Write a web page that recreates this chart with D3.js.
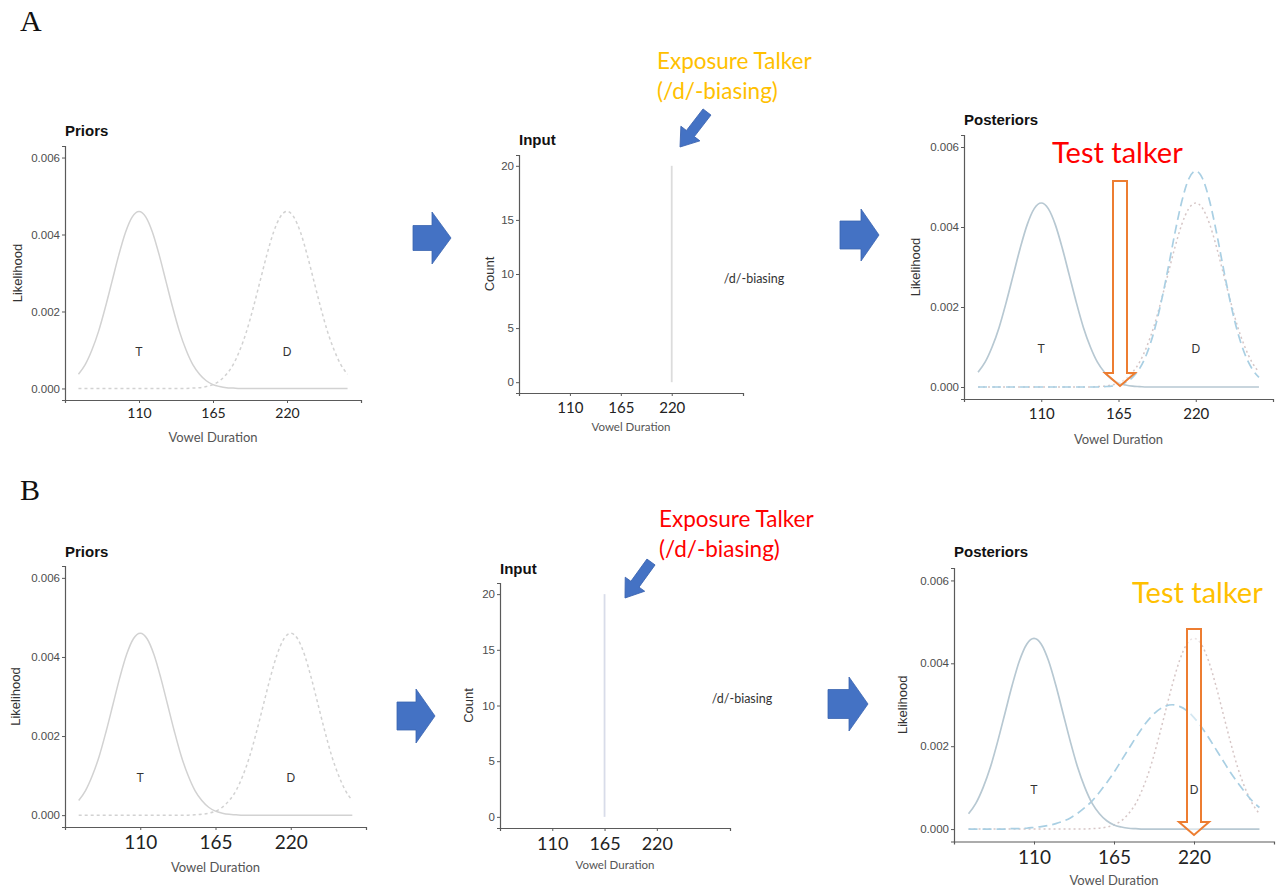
<!DOCTYPE html>
<html>
<head>
<meta charset="utf-8">
<script src="https://cdn.jsdelivr.net/npm/d3@7"></script>
<style>
  body { margin: 0; background: #fff; }
  svg text { font-family: "Liberation Sans", Arial, sans-serif; }
</style>
</head>
<body>
<div id="chart"></div>
<script>
// Vowel duration grid (ms) the curves are read at
var duration = [65, 70, 75, 80, 85, 90, 95, 100, 105, 110, 115, 120, 125, 130, 135, 140, 145, 150, 155, 160,
  165, 170, 175, 180, 185, 190, 195, 200, 205, 210, 215, 220, 225, 230, 235, 240, 245, 250, 255, 260, 265];

// Prior /t/ category (solid)
var priorT = [0.00037, 0.00062, 0.00100, 0.00149, 0.00211, 0.00279, 0.00347, 0.00406, 0.00446, 0.00460,
  0.00446, 0.00406, 0.00347, 0.00279, 0.00211, 0.00149, 0.00100, 0.00062, 0.00037, 0.00020,
  0.00010, 0.00005, 0.00002, 0.00001, 0, 0, 0, 0, 0, 0, 0, 0, 0, 0, 0, 0, 0, 0, 0, 0, 0];

// Prior /d/ category (dotted)
var priorD = [0, 0, 0, 0, 0, 0, 0, 0, 0, 0, 0, 0, 0, 0, 0, 0, 0, 0.00001, 0.00002, 0.00005,
  0.00010, 0.00020, 0.00037, 0.00062, 0.00100, 0.00149, 0.00211, 0.00279, 0.00347, 0.00406,
  0.00446, 0.00460, 0.00446, 0.00406, 0.00347, 0.00279, 0.00211, 0.00149, 0.00100, 0.00062, 0.00037];

// Posterior /d/ after exposure, panel A (dashed)
var postD_A = [0, 0, 0, 0, 0, 0, 0, 0, 0, 0, 0, 0, 0, 0, 0, 0, 0, 0, 0.00001, 0.00002,
  0.00005, 0.00011, 0.00024, 0.00046, 0.00082, 0.00135, 0.00206, 0.00291, 0.00382, 0.00463,
  0.00520, 0.00540, 0.00520, 0.00463, 0.00382, 0.00291, 0.00206, 0.00135, 0.00082, 0.00046, 0.00024];

// Posterior /d/ after exposure, panel B (dashed)
var postD_B = [0, 0, 0, 0, 0, 0, 0.00001, 0.00001, 0.00002, 0.00004, 0.00006, 0.00009, 0.00013, 0.00019, 0.00027,
  0.00038, 0.00052, 0.00068, 0.00089, 0.00112, 0.00137, 0.00165, 0.00193, 0.00221, 0.00247,
  0.00269, 0.00286, 0.00296, 0.00300, 0.00296, 0.00286, 0.00269, 0.00247, 0.00221, 0.00193,
  0.00165, 0.00137, 0.00112, 0.00089, 0.00068, 0.00052];

// Exposure input (duration, count)
var inputA = [{ duration: 220, count: 20 }];
var inputB = [{ duration: 165, count: 20 }];

var likelihoodTicks = [0, 0.002, 0.004, 0.006];
var countTicks = [0, 5, 10, 15, 20];
var durationTicks = [110, 165, 220];
var categoryNames = ["T", "D"];
var categoryMeans = [110, 220];
var categoryLabelLevel = 0.00095;

var W = 1276, H = 893;
var svg = d3.select("#chart").append("svg")
  .attr("width", W)
  .attr("height", H);

var axisColor = "#5a5a5a";

function styleAxis(g) {
  g.select(".domain").attr("stroke", axisColor).attr("stroke-width", 1.2);
  g.selectAll(".tick line").attr("stroke", axisColor);
}

function xAxis(x, p) {
  var g = svg.append("g")
    .attr("transform", "translate(0," + p.bottom + ")")
    .call(d3.axisBottom(x).tickValues(durationTicks).tickSizeOuter(0).tickSize(3).tickPadding(p.xPad));
  styleAxis(g);
  g.selectAll(".tick text")
    .attr("fill", "#222")
    .style("font-family", "Lato, 'Open Sans', sans-serif")
    .style("font-size", p.xFont + "px");
  svg.append("text")
    .attr("x", (p.left + p.right) / 2)
    .attr("y", p.xTitleY)
    .attr("text-anchor", "middle")
    .attr("fill", "#555")
    .style("font-family", "Lato, 'Open Sans', sans-serif")
    .style("font-size", p.xTitleFont + "px")
    .text("Vowel Duration");
}

function yAxis(y, p, ticks, fmt, label) {
  var g = svg.append("g")
    .attr("transform", "translate(" + p.left + ",0)")
    .call(d3.axisLeft(y).tickValues(ticks).tickFormat(fmt).tickSizeOuter(0).tickSize(3).tickPadding(2));
  styleAxis(g);
  g.selectAll(".tick text")
    .attr("fill", "#4d4d4d")
    .style("font-size", "11.5px");
  svg.append("text")
    .attr("transform", "translate(" + p.yTitleX + "," + (p.top + p.bottom) / 2 + ") rotate(-90)")
    .attr("text-anchor", "middle")
    .attr("dy", "0.35em")
    .attr("fill", "#333")
    .style("font-size", "13px")
    .text(label);
  svg.append("text")
    .attr("x", p.left)
    .attr("y", p.titleY)
    .attr("font-weight", "bold")
    .attr("fill", "#111")
    .style("font-size", "15px")
    .text(p.title);
}

function densityPanel(p) {
  var x = d3.scaleLinear().domain([55, 275]).range([p.left, p.right]);
  var y = d3.scaleLinear().domain([-0.0003, 0.0063]).range([p.bottom, p.top]);
  var line = d3.line()
    .x(function(d, i) { return x(duration[i]); })
    .y(function(d) { return y(d); })
    .curve(d3.curveMonotoneX);

  p.curves.forEach(function(c) {
    svg.append("path")
      .datum(c.values)
      .attr("d", line)
      .attr("fill", "none")
      .attr("stroke", c.color)
      .attr("stroke-width", c.width || 1.5)
      .attr("stroke-dasharray", c.dash || null);
  });

  xAxis(x, p);
  yAxis(y, p, likelihoodTicks, d3.format(".3f"), "Likelihood");

  // category labels go on top so the test arrow does not hide them
  p.labels = function() {
    svg.selectAll(null)
      .data(categoryNames)
      .enter().append("text")
      .attr("x", function(d, i) { return x(categoryMeans[i]); })
      .attr("y", y(categoryLabelLevel))
      .attr("dy", "0.35em")
      .attr("text-anchor", "middle")
      .attr("fill", "#333")
      .style("font-size", "12px")
      .text(function(d) { return d; });
  };
  return p;
}

function inputPanel(p, data) {
  var x = d3.scaleLinear().domain([55, 297]).range([p.left, p.right]);
  var y = d3.scaleLinear().domain([-1, 21]).range([p.bottom, p.top]);

  svg.selectAll(null)
    .data(data)
    .enter().append("line")
    .attr("x1", function(d) { return x(d.duration); })
    .attr("x2", function(d) { return x(d.duration); })
    .attr("y1", y(0))
    .attr("y2", function(d) { return y(d.count); })
    .attr("stroke", p.barColor)
    .attr("stroke-width", 1.8);

  svg.append("text")
    .attr("x", p.legendX)
    .attr("y", p.legendY)
    .attr("dy", "0.35em")
    .attr("text-anchor", "middle")
    .attr("fill", "#333")
    .style("font-family", "Lato, 'Open Sans', sans-serif")
    .style("font-size", "12.5px")
    .text("/d/-biasing");

  xAxis(x, p);
  yAxis(y, p, countTicks, d3.format("d"), "Count");
}

// Right-pointing block arrow
function blockArrow(x0, xHead, xTip, cy, sh, hh) {
  var pts = [[x0, cy - sh], [xHead, cy - sh], [xHead, cy - hh], [xTip, cy], [xHead, cy + hh],
    [xHead, cy + sh], [x0, cy + sh]];
  svg.append("polygon")
    .attr("points", pts.map(function(d) { return d.join(","); }).join(" "))
    .attr("fill", "#4472C4")
    .attr("stroke", "#3b64b0")
    .attr("stroke-width", 0.8);
}

// Small slanted pointer arrow, tail -> tip
function pointer(tail, tip) {
  var dx = tip[0] - tail[0], dy = tip[1] - tail[1];
  var L = Math.sqrt(dx * dx + dy * dy);
  var ang = Math.atan2(dy, dx) * 180 / Math.PI;
  var sw = 5, hw = 12, hl = 17;
  var pts = [[0, -sw], [L - hl, -sw], [L - hl, -hw], [L, 0], [L - hl, hw], [L - hl, sw], [0, sw]];
  svg.append("polygon")
    .attr("transform", "translate(" + tail[0] + "," + tail[1] + ") rotate(" + ang + ")")
    .attr("points", pts.map(function(d) { return d.join(","); }).join(" "))
    .attr("fill", "#4472C4")
    .attr("stroke", "#3b64b0")
    .attr("stroke-width", 0.8);
}

// Hollow downward arrow marking the test talker
function testArrow(cx, top, tip) {
  var sw = 7, hw = 15, hl = 13;
  var pts = [[cx - sw, top], [cx + sw, top], [cx + sw, tip - hl], [cx + hw, tip - hl], [cx, tip],
    [cx - hw, tip - hl], [cx - sw, tip - hl]];
  svg.append("polygon")
    .attr("points", pts.map(function(d) { return d.join(","); }).join(" "))
    .attr("fill", "#fff")
    .attr("fill-opacity", 0.5)
    .attr("stroke", "#ED7D31")
    .attr("stroke-width", 2);
}

function callout(lines, x, y0, step, color, size) {
  lines.forEach(function(t, i) {
    svg.append("text")
      .attr("x", x)
      .attr("y", y0 + i * step)
      .attr("dy", "0.35em")
      .attr("fill", color)
      .style("font-family", "Lato, 'Open Sans', sans-serif")
      .style("font-size", size + "px")
      .text(t);
  });
}

var grayCurve = "#d2d2d2";
var tCurve = "#b7c8d2";
var dashCurve = "#a9cfe3";
var dotCurve = "#d6c6c6";

// ---------- Row A ----------
svg.append("text").attr("x", 20).attr("y", 31)
  .style("font-family", "'Liberation Serif', 'DejaVu Serif', serif").style("font-size", "30px")
  .attr("fill", "#111").text("A");

var priorsA = densityPanel({
  left: 65, right: 361, top: 146, bottom: 400, title: "Priors", titleY: 136,
  xPad: 5, xFont: 14, xTitleY: 442, xTitleFont: 13, yTitleX: 17,
  curves: [
    { values: priorT, color: grayCurve },
    { values: priorD, color: grayCurve, dash: "3,3" }
  ]
});
priorsA.labels();

inputPanel({
  left: 519, right: 743, top: 155, bottom: 393, title: "Input", titleY: 145,
  xPad: 6, xFont: 15, xTitleY: 431, xTitleFont: 11.5, yTitleX: 489,
  barColor: "#dcdcdc", legendX: 754, legendY: 279
}, inputA);

var postA = densityPanel({
  left: 964, right: 1273, top: 135, bottom: 399, title: "Posteriors", titleY: 125,
  xPad: 6, xFont: 15, xTitleY: 444, xTitleFont: 13, yTitleX: 915,
  curves: [
    { values: priorD, color: dotCurve, dash: "2,3" },
    { values: postD_A, color: dashCurve, dash: "9,5", width: 1.7 },
    { values: priorT, color: tCurve, width: 1.7 }
  ]
});

blockArrow(413, 432, 451, 238, 12.5, 26);
blockArrow(840, 861, 879, 235, 14, 26);
pointer([707, 112], [680, 147]);
callout(["Exposure Talker", "(/d/-biasing)"], 657, 61, 30, "#FFC000", 22.5);
callout(["Test talker"], 1052, 153, 0, "#FF0000", 29);
testArrow(1120, 181, 386);
postA.labels();

// ---------- Row B ----------
svg.append("text").attr("x", 20).attr("y", 500)
  .style("font-family", "'Liberation Serif', 'DejaVu Serif', serif").style("font-size", "30px")
  .attr("fill", "#111").text("B");

var priorsB = densityPanel({
  left: 65, right: 366, top: 566, bottom: 827, title: "Priors", titleY: 557,
  xPad: 6, xFont: 19, xTitleY: 872, xTitleFont: 13, yTitleX: 15,
  curves: [
    { values: priorT, color: grayCurve },
    { values: priorD, color: grayCurve, dash: "3,3" }
  ]
});
priorsB.labels();

inputPanel({
  left: 500, right: 730, top: 583, bottom: 828, title: "Input", titleY: 574,
  xPad: 6, xFont: 18, xTitleY: 869, xTitleFont: 11.5, yTitleX: 468,
  barColor: "#d8dce9", legendX: 742, legendY: 699
}, inputB);

var postB = densityPanel({
  left: 954, right: 1274, top: 568, bottom: 841.5, title: "Posteriors", titleY: 557,
  xPad: 6, xFont: 19, xTitleY: 885, xTitleFont: 13, yTitleX: 902,
  curves: [
    { values: priorD, color: dotCurve, dash: "2,3" },
    { values: postD_B, color: dashCurve, dash: "9,5", width: 1.7 },
    { values: priorT, color: tCurve, width: 1.7 }
  ]
});

blockArrow(397, 416, 435, 716, 14, 27);
blockArrow(828, 849, 868, 704, 14.5, 27);
pointer([651, 562], [625, 598]);
callout(["Exposure Talker", "(/d/-biasing)"], 659, 519, 30, "#FF0000", 22.5);
callout(["Test talker"], 1132, 593, 0, "#FFC000", 29);
testArrow(1194, 629, 835);
postB.labels();
</script>
</body>
</html>
